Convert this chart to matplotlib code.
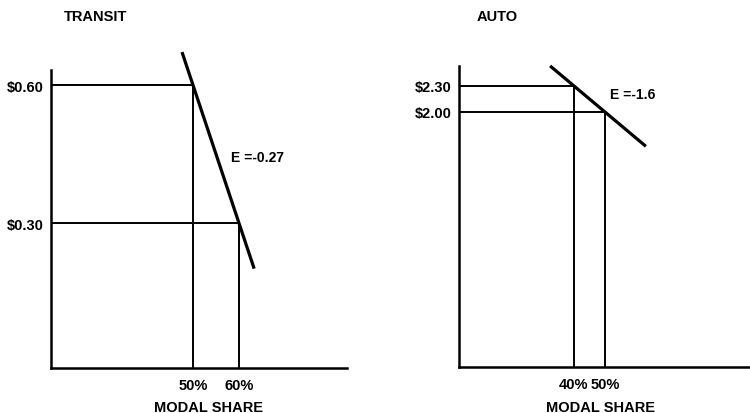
import numpy as np
import matplotlib.pyplot as plt

plt.rcParams['font.family'] = ['Liberation Sans', 'DejaVu Sans']
plt.rcParams['font.weight'] = 'bold'

# transit panel
transit_share = [50, 60]
transit_price = [0.60, 0.30]
transit_ticks = ['$0.60', '$0.30']
transit_line_x = [47.6, 63.3]
transit_elast = 'E =-0.27'

# auto panel
auto_share = [40, 50]
auto_price = [2.30, 2.00]
auto_ticks = ['$2.30', '$2.00']
auto_line_x = [32.3, 63.2]
auto_elast = 'E =-1.6'

W, H = 750, 414
fig = plt.figure(figsize=(7.5, 4.14), dpi=100)


def panel(px, share, price, ticks, line_x, xlim, ylim, title, tx, label, lx, ly, mx):
    ax = fig.add_axes([px[0] / W, 1 - px[3] / H, (px[1] - px[0]) / W, (px[3] - px[2]) / H])
    ax.set_xlim(*xlim)
    ax.set_ylim(*ylim)
    for s in ['top', 'right']:
        ax.spines[s].set_visible(False)
    for s in ['left', 'bottom']:
        ax.spines[s].set_linewidth(1.8)
    ax.set_xticks(share)
    ax.set_xticklabels(['%d%%' % s for s in share])
    ax.set_yticks(price)
    ax.set_yticklabels(ticks)
    ax.tick_params(axis='both', length=0, labelsize=10.5)
    ax.tick_params(axis='x', pad=7)
    ax.tick_params(axis='y', pad=5)

    # drop lines from each point to the axes
    ax.hlines(price, xlim[0], share, color='black', lw=1.4)
    ax.vlines(share, ylim[0], price, color='black', lw=1.4)

    # demand line through the two points
    slope = (price[1] - price[0]) / (share[1] - share[0])
    lx_arr = np.array(line_x)
    ly_arr = price[0] + slope * (lx_arr - share[0])
    ax.plot(lx_arr, ly_arr, color='black', lw=2.3, clip_on=False, solid_capstyle='butt')

    ax.text(lx, ly, label, fontsize=10, va='center', ha='left')
    fig.text(tx / W, 1 - 17 / H, title, fontsize=10.5, ha='center', va='center')
    fig.text(mx / W, 1 - 408 / H, 'MODAL SHARE', fontsize=10.5, ha='center', va='center')
    return ax


panel([51, 347, 71, 369], transit_share, transit_price, transit_ticks, transit_line_x,
      (19.1, 83.5), (-0.015, 0.633), 'TRANSIT', 96, transit_elast, 58.3, 0.443, 208)
panel([459, 750, 67, 368], auto_share, auto_price, auto_ticks, auto_line_x,
      (2.9, 96.8), (-0.94, 2.53), 'AUTO', 497, auto_elast, 51.6, 2.21, 600)

fig.savefig('out.png', dpi=100)
